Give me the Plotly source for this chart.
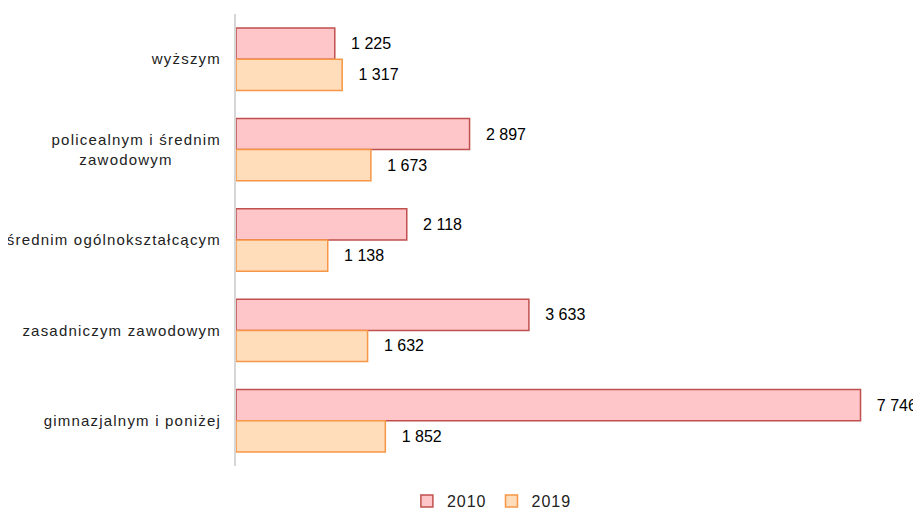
import plotly.graph_objects as go

categories = ["wyższym", "policealnym i średnim<br>zawodowym\u00a0\u00a0\u00a0\u00a0\u00a0\u00a0\u00a0\u00a0\u00a0",
              "średnim ogólnokształcącym", "zasadniczym zawodowym", "gimnazjalnym i poniżej"]
values_2010 = [1225, 2897, 2118, 3633, 7746]
values_2019 = [1317, 1673, 1138, 1632, 1852]
series_names = ["2010", "2019"]

def fmt(v):
    return "\u00a0\u00a0\u00a0" + f"{v:,}".replace(",", " ")

def spaced(lbl, ls=1.2):
    return "<br>".join(f'<span style="letter-spacing:{ls}px">' + p + "</span>" for p in lbl.split("<br>"))

tick_text = [spaced(c) for c in categories]

fig = go.Figure()
fig.add_trace(go.Bar(
    y=categories, x=values_2010, name=spaced(series_names[0], 1.0), orientation="h",
    marker=dict(color="#FFC6C9", line=dict(color="#C0504D", width=1.5)),
    text=[fmt(v) for v in values_2010], textposition="outside",
    textfont=dict(family="Liberation Sans, Arial", size=16, color="#000"),
    cliponaxis=False,
))
fig.add_trace(go.Bar(
    y=categories, x=values_2019, name=spaced(series_names[1], 1.0), orientation="h",
    marker=dict(color="#FFDDBB", line=dict(color="#F79646", width=1.5)),
    text=[fmt(v) for v in values_2019], textposition="outside",
    textfont=dict(family="Liberation Sans, Arial", size=16, color="#000"),
    cliponaxis=False,
))

# page body has an 8px margin, so the figure is sized/offset to compensate
fig.update_layout(
    width=913, height=510,
    margin=dict(l=228, r=40, t=6, b=52, autoexpand=False),
    barmode="group", bargap=0.31, bargroupgap=0,
    plot_bgcolor="white", paper_bgcolor="white",
    font=dict(family="Liberation Sans, Arial", size=15, color="#222"),
    legend=dict(orientation="h", x=0.53, xanchor="center", xref="container",
                y=-0.01, yanchor="bottom", yref="container",
                font=dict(size=16, color="#222"), itemwidth=30, traceorder="normal"),
    xaxis=dict(range=[0, 8000], showgrid=False, zeroline=False, showticklabels=False,
               showline=False, fixedrange=True, automargin=False),
    yaxis=dict(autorange="reversed", showline=True, linecolor="#D6D6D6", linewidth=2,
               ticks="", ticklabelstandoff=10, showgrid=False, automargin=False,
               tickmode="array", tickvals=categories, ticktext=tick_text,
               tickfont=dict(size=15, color="#222")),
)

fig.write_html("out.html")
